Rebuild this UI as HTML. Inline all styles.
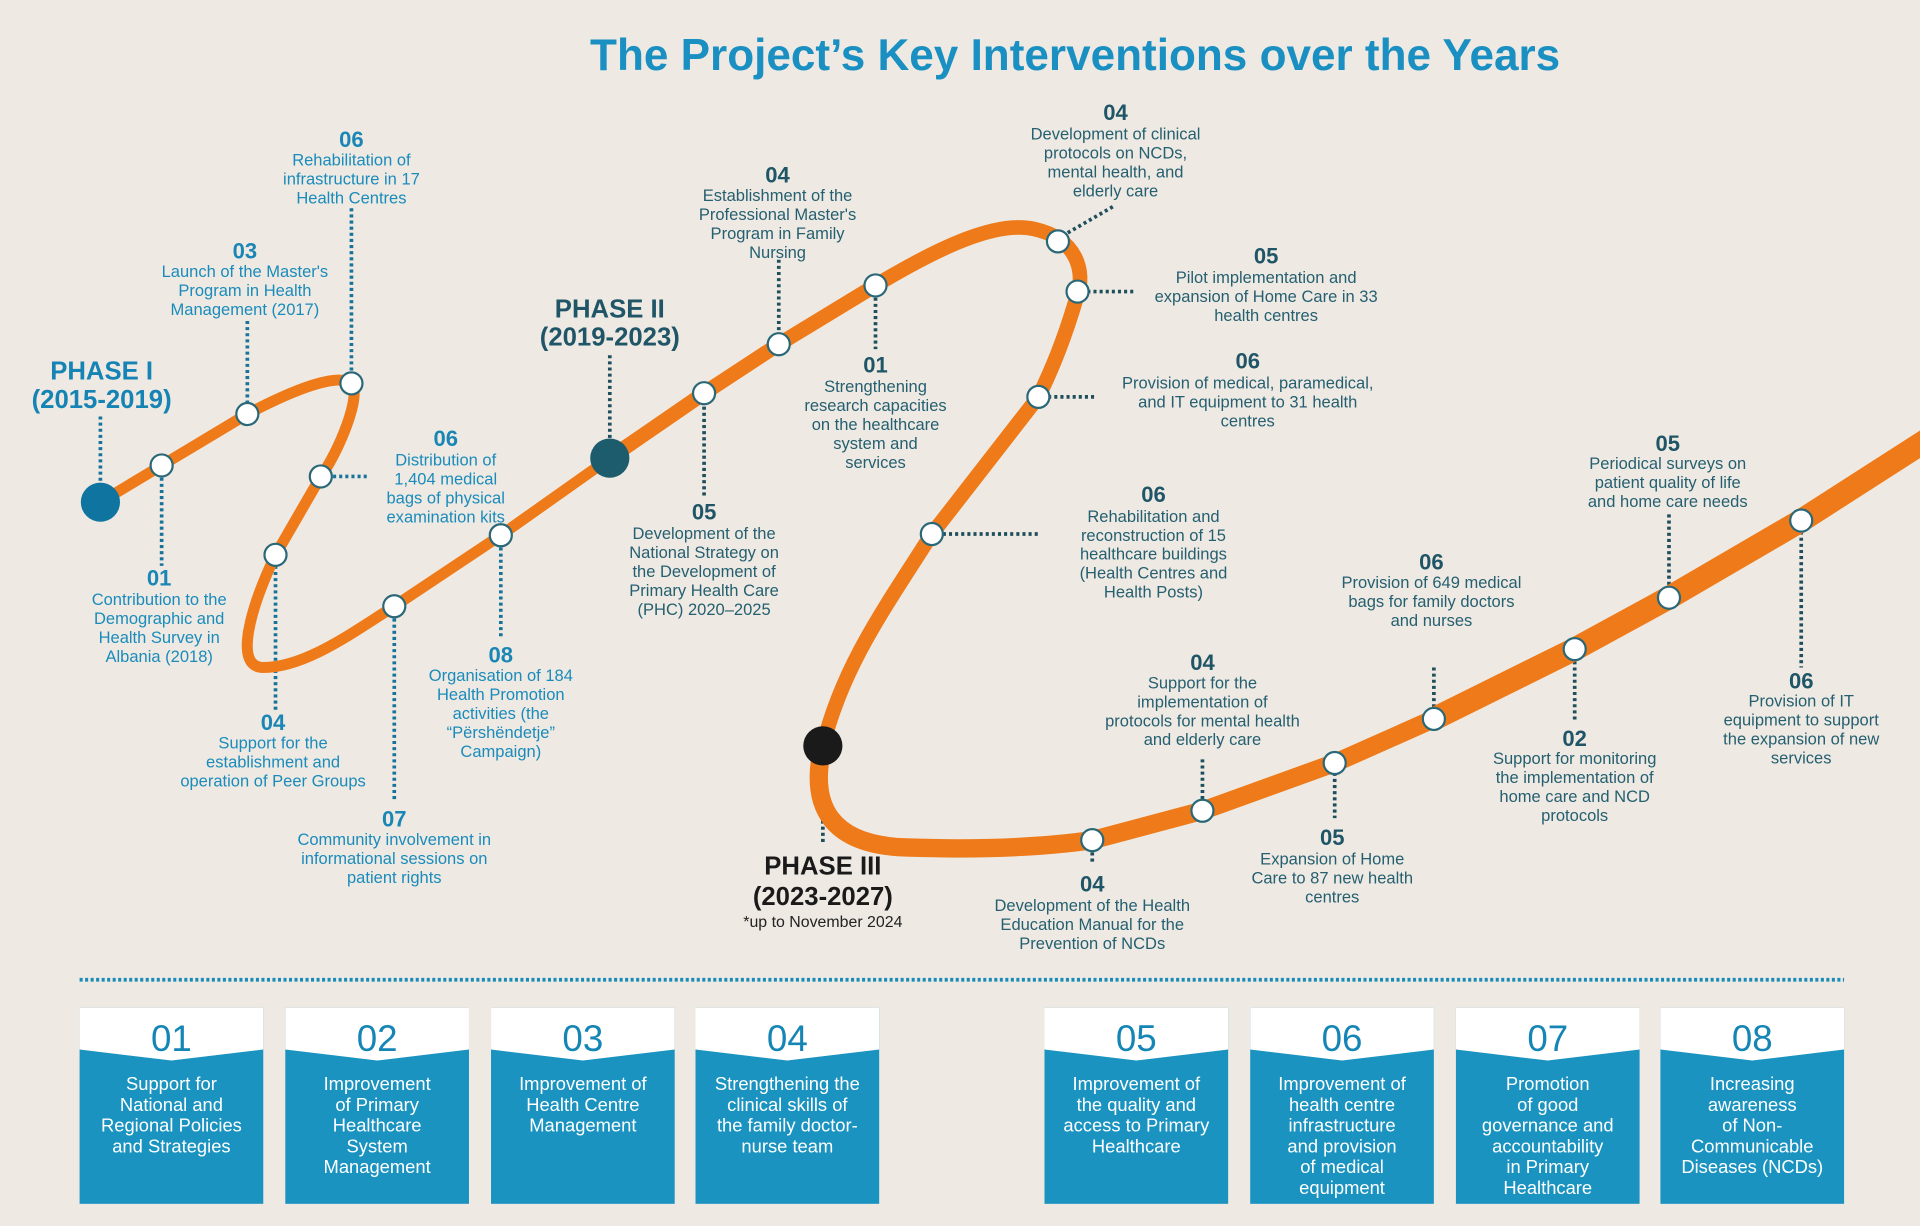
<!DOCTYPE html>
<html><head><meta charset="utf-8"><style>
html,body{margin:0;padding:0;background:#eeeae3;}
svg{display:block;}
text{font-family:"Liberation Sans",sans-serif;}
.t1{fill:#1a8bbb;font-size:13.5px;text-anchor:middle;}
.n1{fill:#1a86b5;font-size:18px;font-weight:bold;text-anchor:middle;}
.t2{fill:#255f70;font-size:13.5px;text-anchor:middle;}
.n2{fill:#1f5566;font-size:18px;font-weight:bold;text-anchor:middle;}
.lead1{stroke:#17739a;stroke-width:3;stroke-dasharray:2.5,2.5;fill:none;}
.lead2{stroke:#1f4e5c;stroke-width:3;stroke-dasharray:2.5,2.5;fill:none;}
.m{fill:#fff;stroke:#2a6878;stroke-width:1.8;}
.bn{fill:#1485b4;font-size:30px;text-anchor:middle;}
.bt{fill:#fff;font-size:15px;text-anchor:middle;}
</style></head><body>
<svg width="1920" height="1226" viewBox="0 0 1568 1001" xmlns="http://www.w3.org/2000/svg">
<rect width="1568" height="1001" fill="#eeeae3"/>
<text x="878" y="57" style="fill:#1a8fc2;font-size:36px;font-weight:bold;text-anchor:middle">The Project’s Key Interventions over the Years</text>

<!-- leaders phase I -->
<path class="lead1" d="M82,340V398 M132,390V462 M202,262V330 M287,170V305 M272,389H302 M225,462V580 M322,505V655 M409,447V522"/>
<!-- leaders phase II -->
<path class="lead2" d="M498,290V362 M575,332V405 M636,212V272 M715,243V285 M872,190L910,168 M888,238H928 M856,324H896 M770,436H850 M672,620V690"/>
<path class="lead2" d="M892,686V705 M982,620V654 M1090,631V668 M1171,545V580 M1286,540V590 M1363,420V480 M1471,434V545"/>

<!-- orange path -->
<path d="M82,410 L132,380 L202,338 C240,318 276,304 287,313 C296,322 276,370 262,389 L225,453 C205,495 190,545 215,545 C250,545 290,515 322,495 L409,437 L498,374" fill="none" stroke="#ee7a1a" stroke-width="9" stroke-linecap="round" stroke-linejoin="round"/>
<path d="M498,374 L575,321 L636,281 L715,233 C770,200 815,180 845,187 C880,195 886,222 880,240 C870,275 860,300 848,324 L761,436 C720,500 688,545 672,609" fill="none" stroke="#ee7a1a" stroke-width="12" stroke-linecap="round" stroke-linejoin="round"/>
<path d="M672,609 C660,660 680,690 740,692 C800,694 850,692 892,686 L982,662 L1090,623 L1171,587" fill="none" stroke="#ee7a1a" stroke-width="15" stroke-linecap="round" stroke-linejoin="round"/>
<path d="M1171,587 L1286,530 L1363,488 L1471,425 L1580,355" fill="none" stroke="#ee7a1a" stroke-width="19" stroke-linejoin="round"/>

<!-- markers -->
<g>
<circle class="m" cx="132" cy="380" r="9"/><circle class="m" cx="202" cy="338" r="9"/><circle class="m" cx="287" cy="313" r="9"/>
<circle class="m" cx="262" cy="389" r="9"/><circle class="m" cx="225" cy="453" r="9"/><circle class="m" cx="322" cy="495" r="9"/>
<circle class="m" cx="409" cy="437" r="9"/><circle class="m" cx="575" cy="321" r="9"/><circle class="m" cx="636" cy="281" r="9"/>
<circle class="m" cx="715" cy="233" r="9"/><circle class="m" cx="864" cy="197" r="9"/><circle class="m" cx="880" cy="238" r="9"/>
<circle class="m" cx="848" cy="324" r="9"/><circle class="m" cx="761" cy="436" r="9"/><circle class="m" cx="892" cy="686" r="9"/>
<circle class="m" cx="982" cy="662" r="9"/><circle class="m" cx="1090" cy="623" r="9"/><circle class="m" cx="1171" cy="587" r="9"/>
<circle class="m" cx="1286" cy="530" r="9"/><circle class="m" cx="1363" cy="488" r="9"/><circle class="m" cx="1471" cy="425" r="9"/>
</g>
<circle cx="82" cy="410" r="16" fill="#0f74a0"/>
<circle cx="498" cy="374" r="16" fill="#1d5c6c"/>
<circle cx="672" cy="609" r="16" fill="#1a1a1a"/>

<!-- phase labels -->
<text x="83" y="310" style="fill:#1683b5;font-size:21px;font-weight:bold;text-anchor:middle">PHASE I</text>
<text x="83" y="333" style="fill:#1683b5;font-size:21px;font-weight:bold;text-anchor:middle">(2015-2019)</text>
<text x="498" y="259" style="fill:#1f5566;font-size:21px;font-weight:bold;text-anchor:middle">PHASE II</text>
<text x="498" y="282" style="fill:#1f5566;font-size:21px;font-weight:bold;text-anchor:middle">(2019-2023)</text>
<text x="672" y="714" style="fill:#1a1a1a;font-size:21px;font-weight:bold;text-anchor:middle">PHASE III</text>
<text x="672" y="739" style="fill:#1a1a1a;font-size:21px;font-weight:bold;text-anchor:middle">(2023-2027)</text>
<text x="672" y="757" style="fill:#222;font-size:13px;text-anchor:middle">*up to November 2024</text>

<!-- phase I items -->
<text class="n1" x="287" y="120">06</text>
<text class="t1" x="287" y="135"><tspan x="287">Rehabilitation of</tspan><tspan x="287" dy="15.5">infrastructure in 17</tspan><tspan x="287" dy="15.5">Health Centres</tspan></text>
<text class="n1" x="200" y="211">03</text>
<text class="t1" x="200" y="226"><tspan x="200">Launch of the Master's</tspan><tspan x="200" dy="15.5">Program in Health</tspan><tspan x="200" dy="15.5">Management (2017)</tspan></text>
<text class="n1" x="364" y="364">06</text>
<text class="t1" x="364" y="380"><tspan x="364">Distribution of</tspan><tspan x="364" dy="15.5">1,404 medical</tspan><tspan x="364" dy="15.5">bags of physical</tspan><tspan x="364" dy="15.5">examination kits</tspan></text>
<text class="n1" x="130" y="478">01</text>
<text class="t1" x="130" y="494"><tspan x="130">Contribution to the</tspan><tspan x="130" dy="15.5">Demographic and</tspan><tspan x="130" dy="15.5">Health Survey in</tspan><tspan x="130" dy="15.5">Albania (2018)</tspan></text>
<text class="n1" x="223" y="596">04</text>
<text class="t1" x="223" y="611"><tspan x="223">Support for the</tspan><tspan x="223" dy="15.5">establishment and</tspan><tspan x="223" dy="15.5">operation of Peer Groups</tspan></text>
<text class="n1" x="409" y="541">08</text>
<text class="t1" x="409" y="556"><tspan x="409">Organisation of 184</tspan><tspan x="409" dy="15.5">Health Promotion</tspan><tspan x="409" dy="15.5">activities (the</tspan><tspan x="409" dy="15.5">“Përshëndetje”</tspan><tspan x="409" dy="15.5">Campaign)</tspan></text>
<text class="n1" x="322" y="675">07</text>
<text class="t1" x="322" y="690"><tspan x="322">Community involvement in</tspan><tspan x="322" dy="15.5">informational sessions on</tspan><tspan x="322" dy="15.5">patient rights</tspan></text>

<!-- phase II items -->
<text class="n2" x="635" y="149">04</text>
<text class="t2" x="635" y="164"><tspan x="635">Establishment of the</tspan><tspan x="635" dy="15.5">Professional Master's</tspan><tspan x="635" dy="15.5">Program in Family</tspan><tspan x="635" dy="15.5">Nursing</tspan></text>
<text class="n2" x="911" y="98">04</text>
<text class="t2" x="911" y="114"><tspan x="911">Development of clinical</tspan><tspan x="911" dy="15.5">protocols on NCDs,</tspan><tspan x="911" dy="15.5">mental health, and</tspan><tspan x="911" dy="15.5">elderly care</tspan></text>
<text class="n2" x="1034" y="215">05</text>
<text class="t2" x="1034" y="231"><tspan x="1034">Pilot implementation and</tspan><tspan x="1034" dy="15.5">expansion of Home Care in 33</tspan><tspan x="1034" dy="15.5">health centres</tspan></text>
<text class="n2" x="1019" y="301">06</text>
<text class="t2" x="1019" y="317"><tspan x="1019">Provision of medical, paramedical,</tspan><tspan x="1019" dy="15.5">and IT equipment to 31 health</tspan><tspan x="1019" dy="15.5">centres</tspan></text>
<text class="n2" x="715" y="304">01</text>
<text class="t2" x="715" y="320"><tspan x="715">Strengthening</tspan><tspan x="715" dy="15.5">research capacities</tspan><tspan x="715" dy="15.5">on the healthcare</tspan><tspan x="715" dy="15.5">system and</tspan><tspan x="715" dy="15.5">services</tspan></text>
<text class="n2" x="575" y="424">05</text>
<text class="t2" x="575" y="440"><tspan x="575">Development of the</tspan><tspan x="575" dy="15.5">National Strategy on</tspan><tspan x="575" dy="15.5">the Development of</tspan><tspan x="575" dy="15.5">Primary Health Care</tspan><tspan x="575" dy="15.5">(PHC) 2020–2025</tspan></text>
<text class="n2" x="942" y="410">06</text>
<text class="t2" x="942" y="426"><tspan x="942">Rehabilitation and</tspan><tspan x="942" dy="15.5">reconstruction of 15</tspan><tspan x="942" dy="15.5">healthcare buildings</tspan><tspan x="942" dy="15.5">(Health Centres and</tspan><tspan x="942" dy="15.5">Health Posts)</tspan></text>

<!-- phase III items -->
<text class="n2" x="892" y="728">04</text>
<text class="t2" x="892" y="744"><tspan x="892">Development of the Health</tspan><tspan x="892" dy="15.5">Education Manual for the</tspan><tspan x="892" dy="15.5">Prevention of NCDs</tspan></text>
<text class="n2" x="982" y="547">04</text>
<text class="t2" x="982" y="562"><tspan x="982">Support for the</tspan><tspan x="982" dy="15.5">implementation of</tspan><tspan x="982" dy="15.5">protocols for mental health</tspan><tspan x="982" dy="15.5">and elderly care</tspan></text>
<text class="n2" x="1088" y="690">05</text>
<text class="t2" x="1088" y="706"><tspan x="1088">Expansion of Home</tspan><tspan x="1088" dy="15.5">Care to 87 new health</tspan><tspan x="1088" dy="15.5">centres</tspan></text>
<text class="n2" x="1169" y="465">06</text>
<text class="t2" x="1169" y="480"><tspan x="1169">Provision of 649 medical</tspan><tspan x="1169" dy="15.5">bags for family doctors</tspan><tspan x="1169" dy="15.5">and nurses</tspan></text>
<text class="n2" x="1286" y="609">02</text>
<text class="t2" x="1286" y="624"><tspan x="1286">Support for monitoring</tspan><tspan x="1286" dy="15.5">the implementation of</tspan><tspan x="1286" dy="15.5">home care and NCD</tspan><tspan x="1286" dy="15.5">protocols</tspan></text>
<text class="n2" x="1362" y="368">05</text>
<text class="t2" x="1362" y="383"><tspan x="1362">Periodical surveys on</tspan><tspan x="1362" dy="15.5">patient quality of life</tspan><tspan x="1362" dy="15.5">and home care needs</tspan></text>
<text class="n2" x="1471" y="562">06</text>
<text class="t2" x="1471" y="577"><tspan x="1471">Provision of IT</tspan><tspan x="1471" dy="15.5">equipment to support</tspan><tspan x="1471" dy="15.5">the expansion of new</tspan><tspan x="1471" dy="15.5">services</tspan></text>

<!-- divider -->
<line x1="65" y1="800" x2="1506" y2="800" stroke="#1a8bb8" stroke-width="3" stroke-dasharray="2.5,2"/>

<!-- boxes -->
<defs>
<g id="box">
<rect x="0" y="0" width="150" height="160" fill="#1a93c0"/>
<path d="M0,0H150V34L75,43L0,34Z" fill="#fff"/>
</g>
</defs>
<g font-family="Liberation Sans">
<use href="#box" x="65" y="823"/><use href="#box" x="233" y="823"/><use href="#box" x="401" y="823"/><use href="#box" x="568" y="823"/>
<use href="#box" x="853" y="823"/><use href="#box" x="1021" y="823"/><use href="#box" x="1189" y="823"/><use href="#box" x="1356" y="823"/>
</g>
<text class="bn" x="140" y="858">01</text><text class="bn" x="308" y="858">02</text><text class="bn" x="476" y="858">03</text><text class="bn" x="643" y="858">04</text>
<text class="bn" x="928" y="858">05</text><text class="bn" x="1096" y="858">06</text><text class="bn" x="1264" y="858">07</text><text class="bn" x="1431" y="858">08</text>
<text class="bt"><tspan x="140" y="890">Support for</tspan><tspan x="140" dy="17">National and</tspan><tspan x="140" dy="17">Regional Policies</tspan><tspan x="140" dy="17">and Strategies</tspan></text>
<text class="bt"><tspan x="308" y="890">Improvement</tspan><tspan x="308" dy="17">of Primary</tspan><tspan x="308" dy="17">Healthcare</tspan><tspan x="308" dy="17">System</tspan><tspan x="308" dy="17">Management</tspan></text>
<text class="bt"><tspan x="476" y="890">Improvement of</tspan><tspan x="476" dy="17">Health Centre</tspan><tspan x="476" dy="17">Management</tspan></text>
<text class="bt"><tspan x="643" y="890">Strengthening the</tspan><tspan x="643" dy="17">clinical skills of</tspan><tspan x="643" dy="17">the family doctor-</tspan><tspan x="643" dy="17">nurse team</tspan></text>
<text class="bt"><tspan x="928" y="890">Improvement of</tspan><tspan x="928" dy="17">the quality and</tspan><tspan x="928" dy="17">access to Primary</tspan><tspan x="928" dy="17">Healthcare</tspan></text>
<text class="bt"><tspan x="1096" y="890">Improvement of</tspan><tspan x="1096" dy="17">health centre</tspan><tspan x="1096" dy="17">infrastructure</tspan><tspan x="1096" dy="17">and provision</tspan><tspan x="1096" dy="17">of medical</tspan><tspan x="1096" dy="17">equipment</tspan></text>
<text class="bt"><tspan x="1264" y="890">Promotion</tspan><tspan x="1264" dy="17">of good</tspan><tspan x="1264" dy="17">governance and</tspan><tspan x="1264" dy="17">accountability</tspan><tspan x="1264" dy="17">in Primary</tspan><tspan x="1264" dy="17">Healthcare</tspan></text>
<text class="bt"><tspan x="1431" y="890">Increasing</tspan><tspan x="1431" dy="17">awareness</tspan><tspan x="1431" dy="17">of Non-</tspan><tspan x="1431" dy="17">Communicable</tspan><tspan x="1431" dy="17">Diseases (NCDs)</tspan></text>
</svg>
</body></html>
